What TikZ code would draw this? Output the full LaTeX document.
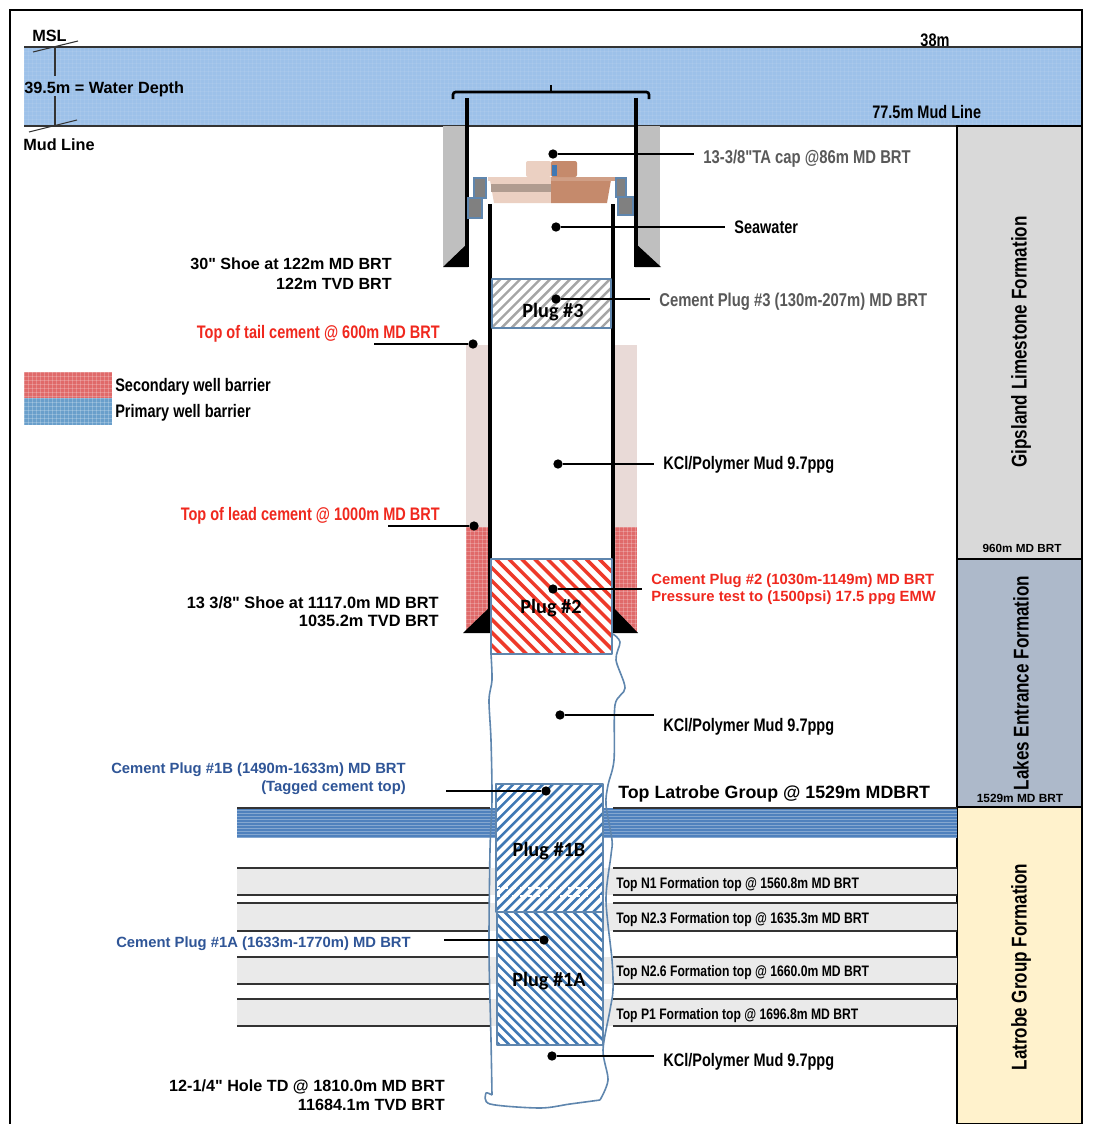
\documentclass[tikz,border=0pt]{standalone}
\usepackage{fontspec}
\usepackage{xcolor}
\usetikzlibrary{calc}
\newfontfamily\widefont{Liberation Sans}
\newfontfamily\narrowfont{Liberation Sans}[FakeStretch=0.8]
\newfontfamily\plugfont{Carlito}
\newcommand{\wf}[2]{\widefont\bfseries\fontsize{#1}{#2}\selectfont}
\definecolor{water}{HTML}{9DC1E9}
\definecolor{gipsland}{HTML}{D9D9D9}
\definecolor{lakes}{HTML}{ADB9CA}
\definecolor{latrobe}{HTML}{FFF2CC}
\definecolor{conductor}{HTML}{BFBFBF}
\definecolor{tailpink}{HTML}{E9DAD7}
\definecolor{barred}{HTML}{E06A6A}
\definecolor{barblue}{HTML}{6A9FCB}
\definecolor{plugred}{HTML}{EE3A2A}
\definecolor{plugblue}{HTML}{3F78B4}
\definecolor{plugedge}{HTML}{5F86AE}
\definecolor{plugtext}{HTML}{2F5597}
\definecolor{bandblue}{HTML}{4F81BD}
\definecolor{bandgrey}{HTML}{EAEAEA}
\definecolor{greytext}{HTML}{595959}
\definecolor{labred}{HTML}{F0281E}
\definecolor{capleft}{HTML}{EBD0C2}
\definecolor{capband}{HTML}{B09C90}
\definecolor{capright}{HTML}{C58A6C}
\tikzset{
  frame/.style={draw=black, line width=1.5pt},
  casing/.style={draw=black, line width=3.3pt},
  thin line/.style={draw=black!80, line width=0.8pt},
  leader/.style={draw=black, line width=2.1pt},
  leaderthin/.style={draw=black, line width=0.8pt},
  dot/.style={circle, fill=black, inner sep=0pt, minimum size=7pt},
  well/.style={draw=plugedge, line width=1.2pt, line join=round},
  lab/.style={text=black, font=\wf{12.2}{14}, inner sep=0pt},
  labn/.style={text=black, font=\narrowfont\bfseries\fontsize{13.6}{15}\selectfont, inner sep=0pt},
  labg/.style={text=greytext, font=\narrowfont\bfseries\fontsize{13.9}{15}\selectfont, inner sep=0pt},
  labs/.style={text=black, font=\narrowfont\bfseries\fontsize{11.4}{13}\selectfont, inner sep=0pt},
  labrot/.style={text=black, font=\narrowfont\bfseries\fontsize{16}{18}\selectfont, inner sep=0pt, rotate=90},
  plug/.style={text=black, font=\plugfont\bfseries\fontsize{15.2}{17}\selectfont, inner sep=0pt},
  gap/.style={outer xsep=7pt},
}
\newcommand{\hatchup}[7]{%
  \begin{scope}
    \clip (#1,#2) rectangle (#3,#4);
    \foreach \k in {0,...,#6}
      \draw[#7, line width=#5] ({#1-150+\k*(#3-#1+150)/#6},#4) -- ++(150,-150);
  \end{scope}}
\newcommand{\hatchdown}[7]{%
  \begin{scope}
    \clip (#1,#2) rectangle (#3,#4);
    \foreach \k in {0,...,#6}
      \draw[#7, line width=#5] ({#1-150+\k*(#3-#1+150)/#6},#2) -- ++(150,150);
  \end{scope}}
\newcommand{\gridfill}[6]{%
  \fill[#5] (#1,#2) rectangle (#3,#4);
  \begin{scope}
    \clip (#1,#2) rectangle (#3,#4);
    \foreach \k in {0,...,280}
      \draw[white, opacity=#6, line width=0.6pt] ({#1+\k*4},#2) -- ({#1+\k*4},#4);
    \foreach \k in {0,...,40}
      \draw[white, opacity=#6, line width=0.6pt] (#1,{#2+\k*4}) -- (#3,{#2+\k*4});
  \end{scope}}
\begin{document}
\begin{tikzpicture}[x=0.75pt, y=-0.75pt]
  \useasboundingbox (0,0) rectangle (1094,1124);
  \fill[white] (0,0) rectangle (1094,1124);

  \gridfill{24}{47}{1083}{126}{water}{0.08}
  \draw[thin line] (24,47) -- (1083,47);
  \draw[thin line] (24,126) -- (1083,126);
  \draw[frame] (10,1124) -- (10,10) -- (1082,10) -- (1082,1124);

  \filldraw[fill=gipsland, frame] (957,126) rectangle (1082,559);
  \filldraw[fill=lakes, frame] (957,559) rectangle (1082,807);
  \filldraw[fill=latrobe, frame] (957,807) rectangle (1082,1124);

  \fill[bandblue] (237,808) rectangle (957,838);
  \foreach \k in {0,...,9}
    \draw[white, opacity=0.3, line width=0.6pt] (237,{810+\k*3}) -- (957,{810+\k*3});
  \foreach \a/\b in {868/895,903/931,957/984,999/1026} {
    \fill[bandgrey] (237,\a) rectangle (957,\b);
    \draw[thin line] (237,\a) -- (490,\a) (613,\a) -- (957,\a);
    \draw[thin line] (237,\b) -- (490,\b) (613,\b) -- (957,\b);
  }
  \draw[thin line] (237,808) -- (490,808) (613,808) -- (957,808);

  \fill[conductor] (443,126) rectangle (467,267);
  \fill[conductor] (636,126) rectangle (660,267);
  \draw[casing] (467,98) -- (467,267);
  \draw[casing] (636,98) -- (636,267);
  \fill[black] (443,267) -- (468,243) -- (468,267) -- cycle;
  \fill[black] (635,243) -- (661,267) -- (635,267) -- cycle;
  \draw[draw=black, line width=2pt, rounded corners=2pt] (453,99) -- (453,92) -- (649,92) -- (649,99);
  \draw[draw=black, line width=2pt] (551,85) -- (551,92);

  \fill[tailpink] (466,345) rectangle (489,527);
  \fill[tailpink] (615,345) rectangle (637,527);
  \gridfill{466}{527}{489}{632}{barred}{0.22}
  \gridfill{615}{527}{637}{632}{barred}{0.22}

  \fill[capleft] (490,180) -- (551,180) -- (551,203) -- (494,203) -- cycle;
  \fill[capband] (491,184) rectangle (551,192);
  \fill[capright] (551,180) -- (611,180) -- (607,203) -- (551,203) -- cycle;
  \fill[capleft] (488,177) rectangle (551,181);
  \fill[capright!70!capleft] (551,177) rectangle (615,181);
  \fill[capleft, rounded corners=1.5pt] (526,177) -- (526,161) -- (551,161) -- (551,177) -- cycle;
  \fill[capright, rounded corners=1.5pt] (551,177) -- (551,161) -- (577,161) -- (577,177) -- cycle;
  \fill[plugblue] (552,165) rectangle (557,176);
  \foreach \a/\b/\c/\d in {474/178/486/198,468/198/482/218,616/178/626/197,618/197/633/215}
    \filldraw[fill=gray, draw=plugedge, line width=0.8pt] (\a,\b) rectangle (\c,\d);

  \draw[casing] (490,204) -- (490,632);
  \draw[casing] (613,204) -- (613,632);
  \fill[black] (463,633) -- (491,606) -- (491,633) -- cycle;
  \fill[black] (612,606) -- (638,633) -- (612,633) -- cycle;

  \fill[white] (492,279) rectangle (611,328);
  \hatchup{492}{279}{611}{328}{1.8pt}{27}{gray!70}
  \draw[well] (492,279) rectangle (611,328);
  \fill[white] (491,559) rectangle (612,654);
  \hatchdown{491}{559}{612}{654}{2.6pt}{21}{plugred}
  \draw[well] (491,559) rectangle (612,654);

  \draw[well] plot[smooth] coordinates {(491,654) (492,680) (489,700) (491,740) (492,800) (490,850) (489,950) (491,1040) (492,1095)};
  \draw[well] plot[smooth] coordinates {(613,634) (620,642) (616,660) (625,688) (615,705) (614,760) (608,785) (606,805) (612,840) (611,855) (606,900) (612,960) (613,990) (610,1010) (603,1050) (608,1080) (600,1100)};
  \draw[well] plot[smooth] coordinates {(492,1095) (486,1093) (490,1104) (540,1108) (570,1104) (600,1100)};

  \fill[white] (496,784) rectangle (603,912);
  \hatchup{496}{784}{603}{912}{1.9pt}{26}{plugblue}
  \draw[white, dashed, line width=0.8pt] (496,888) -- (603,888) (496,896) -- (603,896);
  \draw[well] (496,784) rectangle (603,912);
  \fill[white] (497,912) rectangle (603,1045);
  \hatchdown{497}{912}{603}{1045}{1.9pt}{26}{plugblue}
  \draw[well] (497,912) rectangle (603,1045);

  \draw[thin line] (33,52) -- (78,41);
  \draw[thin line] (29,132) -- (77,120);
  \draw[thin line] (55,47) -- (55,76) (55,96) -- (55,126);

  \gridfill{24}{372}{112}{398}{barred}{0.22}
  \gridfill{24}{398}{112}{425}{barblue}{0.22}

  \node[lab, anchor=west] (lblMsl) at (32,36) {MSL};
  \node[lab, anchor=west] (lblDepth) at (24,89) {39.5m = Water Depth};
  \node[lab, anchor=west] (lblMudLine) at (23,145) {Mud Line};
  \node[labn] (lblTop) at (935,40) {38m};
  \node[labn, anchor=west] (lblBrtMud) at (872,112) {77.5m Mud Line};
  \node[labn, anchor=west] (lblSecondary) at (115,387) {Secondary well barrier};
  \node[labn, anchor=west] (lblPrimary) at (115,413) {Primary well barrier};

  \node[lab, anchor=east, align=right, font=\wf{12.1}{15}] (lblShoeA) at (392,274) {30" Shoe at 122m MD BRT\\122m TVD BRT};
  \node[lab, anchor=east, align=right, font=\wf{12.25}{13.5}] (lblShoeB) at (439,612) {13 3/8" Shoe at 1117.0m MD BRT\\1035.2m TVD BRT};
  \node[lab, anchor=east, align=right, font=\wf{12.15}{14.2}] (lblHole) at (445,1095) {12-1/4" Hole TD @ 1810.0m MD BRT\\11684.1m TVD BRT};

  \node[labn, anchor=east, text=labred] (lblTail) at (440,334) {Top of tail cement @ 600m MD BRT};
  \node[labn, anchor=east, text=labred] (lblLead) at (440,516) {Top of lead cement @ 1000m MD BRT};
  \node[lab, anchor=east, align=right, text=plugtext, font=\wf{11.1}{13.5}] (lblPlugB) at (406,779) {Cement Plug \#1B (1490m-1633m) MD BRT\\(Tagged cement top)};
  \node[lab, anchor=east, text=plugtext, font=\wf{11.1}{13}] (lblPlugA) at (411,944) {Cement Plug \#1A (1633m-1770m) MD BRT};

  \node[labg, gap, anchor=west] (lblCap) at (694,159) {13-3/8"TA cap @86m MD BRT};
  \node[labn, gap, anchor=west] (lblSea) at (725,227) {Seawater};
  \node[labg, gap, anchor=west] (lblPlugC) at (650,302) {Cement Plug \#3 (130m-207m) MD BRT};
  \node[labn, gap, anchor=west] (lblMudA) at (654,465) {KCl/Polymer Mud 9.7ppg};
  \node[lab, gap, anchor=west, align=left, text=labred, font=\wf{11.1}{12.7}] (lblPlugTwo) at (642,589) {Cement Plug \#2 (1030m-1149m) MD BRT\\Pressure test to (1500psi) 17.5 ppg EMW};
  \node[labn, gap, anchor=west] (lblMudB) at (654,727) {KCl/Polymer Mud 9.7ppg};
  \node[labn, gap, anchor=west] (lblMudC) at (654,1062) {KCl/Polymer Mud 9.7ppg};

  \node[lab, anchor=west, font=\wf{13.35}{15}] (lblLatrobe) at (618,794) {Top Latrobe Group @ 1529m MDBRT};
  \node[labs, anchor=west] (lblNOne) at (616,885) {Top N1 Formation top @ 1560.8m MD BRT};
  \node[labs, anchor=west] (lblNTwoA) at (616,920) {Top N2.3 Formation top @ 1635.3m MD BRT};
  \node[labs, anchor=west] (lblNTwoB) at (616,973) {Top N2.6 Formation top @ 1660.0m MD BRT};
  \node[labs, anchor=west] (lblPOne) at (616,1016) {Top P1 Formation top @ 1696.8m MD BRT};

  \node[lab, font=\wf{8.8}{10}] (lblDepthA) at (1022,548) {960m MD BRT};
  \node[lab, font=\wf{8.9}{10}] (lblDepthB) at (1020,798) {1529m MD BRT};
  \node[labrot] (lblGipsland) at (1021,342) {Gipsland Limestone Formation};
  \node[labrot] (lblLakes) at (1021,683) {Lakes Entrance Formation};
  \node[labrot] (lblLatrobeF) at (1021,967) {Latrobe Group Formation};

  \node[plug] (plugThree) at (553,312) {Plug \#3};
  \node[plug] (plugTwo) at (551,608) {Plug \#2};
  \node[plug] (plugOneB) at (549,851) {Plug \#1B};
  \node[plug] (plugOneA) at (549,981) {Plug \#1A};

  \node[dot] (dotCap) at (553,154) {};
  \node[dot] (dotSea) at (556,227) {};
  \node[dot] (dotPlugC) at (556,299) {};
  \node[dot] (dotTail) at (473,344) {};
  \node[dot] (dotMudA) at (558,464) {};
  \node[dot] (dotLead) at (474,526) {};
  \node[dot] (dotPlugTwo) at (553,589) {};
  \node[dot] (dotMudB) at (560,715) {};
  \node[dot] (dotPlugB) at (546,791) {};
  \node[dot] (dotPlugA) at (544,940) {};
  \node[dot] (dotMudC) at (552,1056) {};

  \coordinate (endTail) at (374,344);
  \coordinate (endLead) at (388,526);
  \coordinate (endPlugB) at (446,791);
  \coordinate (endPlugA) at (444,940);

  \draw[leader] (dotCap) -- (dotCap -| lblCap.west);
  \draw[leader] (dotSea) -- (dotSea -| lblSea.west);
  \draw[leader] (dotPlugC) -- (dotPlugC -| lblPlugC.west);
  \draw[leader] (dotMudA) -- (dotMudA -| lblMudA.west);
  \draw[leader] (dotPlugTwo) -- (dotPlugTwo -| lblPlugTwo.west);
  \draw[leader] (dotMudB) -- (dotMudB -| lblMudB.west);
  \draw[leader] (dotMudC) -- (dotMudC -| lblMudC.west);
  \draw[leaderthin] (endTail) -- (dotTail);
  \draw[leaderthin] (endLead) -- (dotLead);
  \draw[leaderthin] (endPlugB) -- (dotPlugB);
  \draw[leaderthin] (endPlugA) -- (dotPlugA);
\end{tikzpicture}
\end{document}
